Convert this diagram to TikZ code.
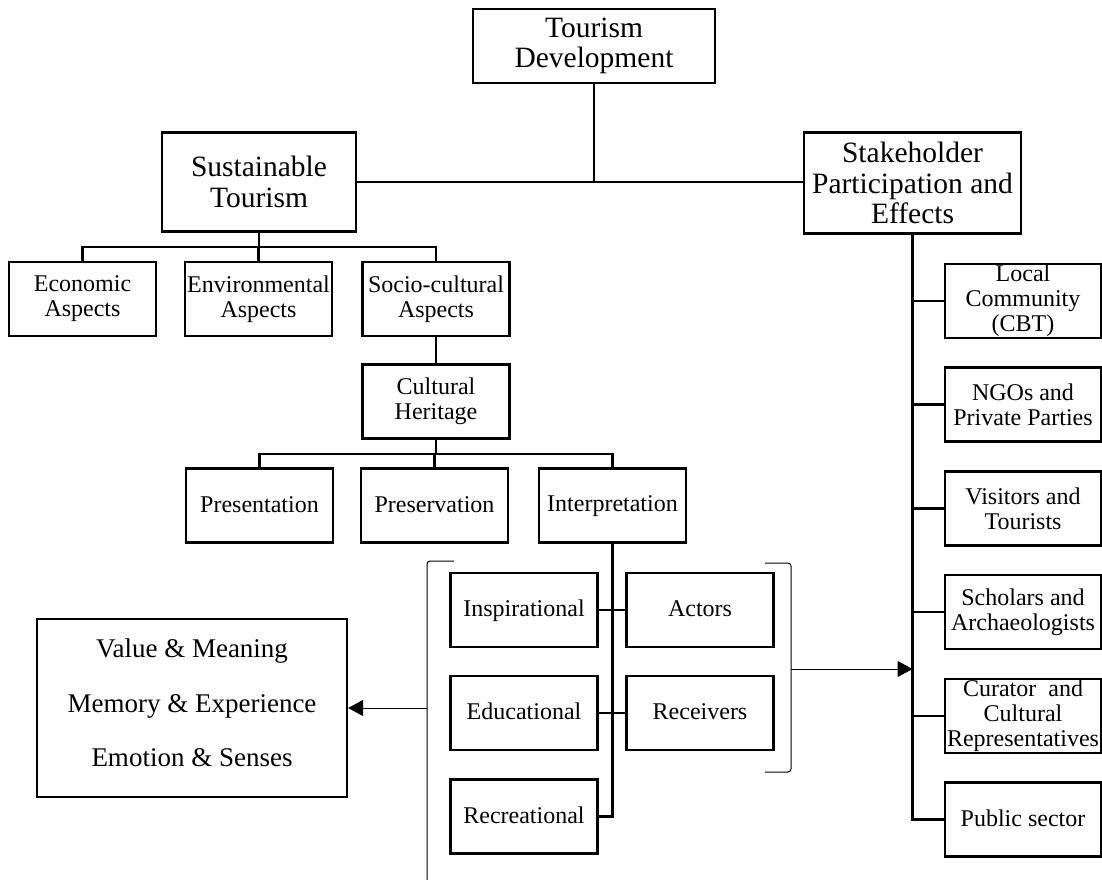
\documentclass[tikz,border=0pt]{standalone}
\usepackage{fontspec}
\setmainfont{Liberation Serif}
\usetikzlibrary{arrows.meta}
\newcommand{\onelinestrut}{\rule[-5pt]{0pt}{23pt}}

\begin{document}
\begin{tikzpicture}[x=1pt,y=-1pt,
  box/.style={draw, line width=2.2pt, align=center, inner sep=0pt},
  smallbox/.style={box, minimum width=147pt, minimum height=74pt,
    font=\fontsize{24}{25}\selectfont},
  sidebox/.style={box, minimum width=156pt, minimum height=74pt,
    font=\fontsize{24}{25}\selectfont},
  bigbox/.style={box, font=\fontsize{29.5}{30.5}\selectfont},
  conn/.style={line width=2.5pt},
  bracket/.style={line width=1pt, rounded corners=3pt},
  pointer/.style={line width=1pt, -{Triangle[length=15pt,width=16pt]}}
]
\useasboundingbox (0,0) rectangle (1102,879);

% top level
\node[bigbox, minimum width=242pt, minimum height=74pt] (td) at (594,46) {Tourism\\Development};
\node[bigbox, minimum width=194pt, minimum height=99pt] (st) at (259,182) {Sustainable\\Tourism};
\node[bigbox, minimum width=217pt, minimum height=101pt] (sp) at (912.5,183) {Stakeholder\\Participation and\\Effects};

\draw[conn] (st.east) -- (st.east -| sp.west);
\draw[conn] (td.south) -- (td.south |- st.east);

% aspects of sustainable tourism
\node[smallbox] (econ) at (82.5,299) {Economic\\Aspects};
\node[smallbox] (env) at (258.5,299) {Environmental\\Aspects};
\node[smallbox] (soc) at (436,299) {Socio-cultural\\Aspects};

\coordinate (ja) at (259,247);
\draw[conn] (st.south) -- (ja);
\draw[conn] (econ.north) -- (econ.north |- ja) -- (soc.north |- ja) -- (soc.north);
\draw[conn] (env.north) -- (env.north |- ja);

% cultural heritage
\node[smallbox] (ch) at (436,401.5) {Cultural\\Heritage};
\draw[conn] (soc.south) -- (ch.north);

\node[smallbox] (pres) at (259.5,505.5) {\onelinestrut Presentation};
\node[smallbox] (prsv) at (434.5,505.5) {\onelinestrut Preservation};
\node[smallbox] (intp) at (612.5,505.5) {\onelinestrut Interpretation};

\coordinate (jb) at (436,454);
\draw[conn] (ch.south) -- (jb);
\draw[conn] (pres.north) -- (pres.north |- jb) -- (intp.north |- jb) -- (intp.north);
\draw[conn] (prsv.north) -- (prsv.north |- jb);

% interpretation modes
\node[smallbox] (insp) at (524,610) {\onelinestrut Inspirational};
\node[smallbox] (act) at (700,610) {\onelinestrut Actors};
\node[smallbox] (edu) at (524,713) {\onelinestrut Educational};
\node[smallbox] (rcv) at (700,713) {\onelinestrut Receivers};
\node[smallbox] (rec) at (524,816.5) {\onelinestrut Recreational};

\draw[conn] (intp.south) -- (intp.south |- rec.east) -- (rec.east);
\draw[conn] (insp.east) -- (act.west);
\draw[conn] (edu.east) -- (rcv.west);

% brackets
\draw[bracket] (454,561) -- (427,561) -- (427,882);
\draw[bracket] (765,563) -- (791,563) -- (791,772) -- (765,772);
\coordinate (lb) at (427,708);
\coordinate (rb) at (791,669);

% meanings
\node[box, minimum width=310pt, minimum height=178pt,
  font=\fontsize{27}{54.5}\selectfont] (val) at (192,708)
  {Value \& Meaning\\Memory \& Experience\\Emotion \& Senses\rule[-10pt]{0pt}{0pt}};
\draw[pointer] (lb) -- (val.east |- lb);

% stakeholders
\node[sidebox] (lc) at (1023,301) {Local\\Community\\(CBT)};
\node[sidebox] (ngo) at (1023,404.5) {NGOs and\\Private Parties};
\node[sidebox] (vis) at (1023,508.5) {Visitors and\\Tourists};
\node[sidebox] (sch) at (1023,612) {Scholars and\\Archaeologists};
\node[sidebox] (cur) at (1023,716) {Curator\ \ and\\Cultural\\Representatives};
\node[sidebox] (pub) at (1023,819.5) {\onelinestrut Public sector};

\draw[conn] (sp.south) -- (sp.south |- pub.west) -- (pub.west);
\foreach \n in {lc,ngo,vis,sch,cur}
  \draw[conn] (sp.south |- \n.west) -- (\n.west);
\draw[pointer] (rb) -- (sp.south |- rb);
\end{tikzpicture}
\end{document}
